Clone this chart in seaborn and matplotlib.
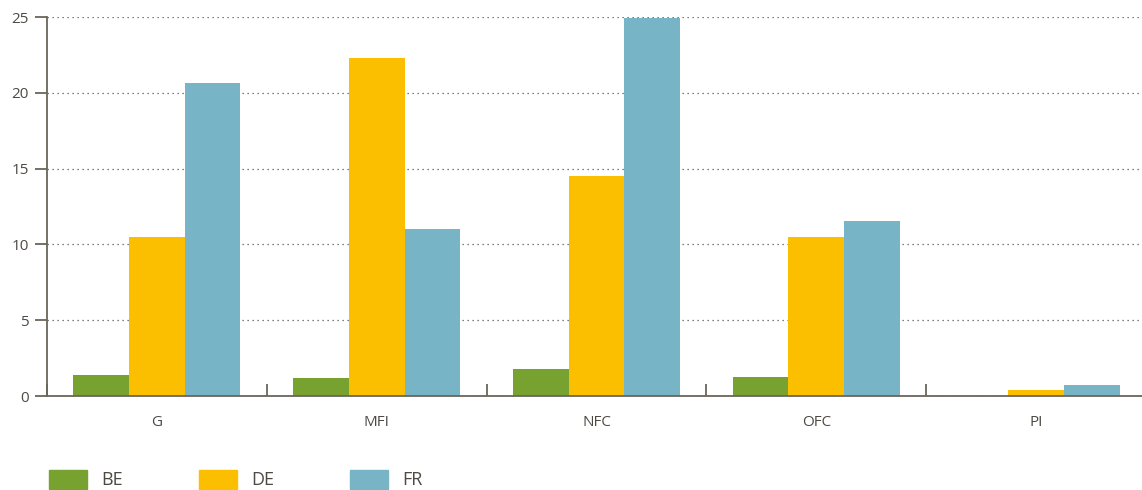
import pandas as pd
import numpy as np
import matplotlib
matplotlib.use('Agg')
import matplotlib.pyplot as plt
import seaborn as sns

# data
sectors = ['G', 'MFI', 'NFC', 'OFC', 'PI']
be = [1.4, 1.2, 1.8, 1.25, 0.03]
de = [10.5, 22.3, 14.5, 10.5, 0.4]
fr = [20.65, 11.0, 24.95, 11.55, 0.73]
countries = ['BE', 'DE', 'FR']
colors = ['#78a22f', '#fbbf00', '#76b4c6']

df = pd.DataFrame({'sector': sectors * 3,
                   'country': np.repeat(countries, len(sectors)),
                   'value': be + de + fr})

sns.set_style('white')
plt.rcParams['font.family'] = ['Open Sans', 'DejaVu Sans']
txt = '#4d4a44'
axc = '#6b665b'

fig = plt.figure(figsize=(11.42, 4.9), dpi=100)
ax = fig.add_axes([47 / 1142, 94 / 490, 1099 / 1142, 379 / 490])

sns.barplot(data=df, x='sector', y='value', hue='country', palette=colors,
            width=0.76, saturation=1, linewidth=0, ax=ax, legend=False)

ax.set_xlim(-0.5, 4.5)
ax.set_ylim(0, 25)
ax.set_yticks([0, 5, 10, 15, 20, 25])
ax.set_xlabel('')
ax.set_ylabel('')

ax.grid(axis='y', linestyle=(0, (1, 3)), color='#555555', linewidth=0.9)
ax.set_axisbelow(True)
for s in ['top', 'right']:
    ax.spines[s].set_visible(False)
ax.spines['left'].set_color(axc)
ax.spines['left'].set_linewidth(1.3)
ax.spines['bottom'].set_color(axc)
ax.spines['bottom'].set_linewidth(1.3)
ax.spines['bottom'].set_linestyle((0, (2, 1)))

ax.tick_params(axis='y', left=True, direction='out', length=9, width=1.3,
               color=axc, labelsize=11, labelcolor=txt, pad=4)
ax.tick_params(axis='x', which='major', bottom=True, length=0, labelsize=11,
               labelcolor=txt, pad=14)
ax.set_xticks(np.arange(-0.5, 5, 1), minor=True)
ax.tick_params(axis='x', which='minor', bottom=True, direction='in',
               length=9, width=1.3, color=axc)

handles = [plt.Rectangle((0, 0), 1, 1, color=c) for c in colors]
fig.legend(handles, countries, loc='lower left', bbox_to_anchor=(0.029, -0.032),
           ncol=3, frameon=False, fontsize=13, handlelength=2.1,
           handleheight=1.3, handletextpad=0.8, columnspacing=4.2,
           labelcolor=txt)

fig.savefig('out.png', dpi=100)
